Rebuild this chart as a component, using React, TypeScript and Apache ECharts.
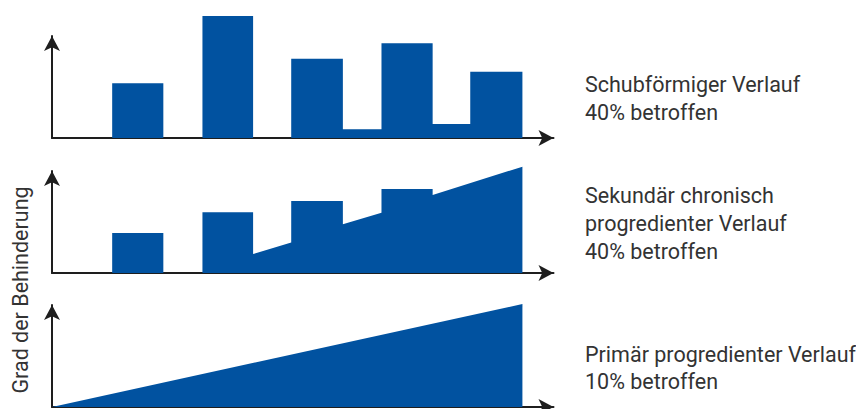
import React, { useEffect, useRef } from "react";
import * as echarts from "echarts";

// Time axis 0..100, degree of disability 0..100
const episodeStart = [12, 30, 47.7, 65.7, 83.4];
const episodeEnd = [22.2, 40.1, 58, 75.9, 93.8];

// Schubförmiger Verlauf
const relapsingPeak = [53.6, 119.6, 77.7, 92.8, 65];
const relapsingBefore = [0, 0, 0, 8.5, 13.7];
const relapsingAfter = [0, 0, 8.5, 13.7, 0];

// Sekundär chronisch progredienter Verlauf
const secondaryPeak = [39.2, 59.5, 70.6, 82.4];
const secondaryBefore = [0, 0, 30, 59];
const secondaryAfter = [0, 18.6, 47.7, 76.5];
const secondaryEnd = [93.8, 104.2];

// Primär progredienter Verlauf
const primaryEnd = [93.8, 101];

const labels = [
  ["Schubförmiger Verlauf", "40% betroffen"],
  ["Sekundär chronisch", "progredienter Verlauf", "40% betroffen"],
  ["Primär progredienter Verlauf", "10% betroffen"],
];
const yAxisTitle = "Grad der Behinderung";

const BLUE = "#0152A0";
const AXIS = "#1e1e1e";
const TEXT = "#333333";
const FONT = "Roboto, 'Liberation Sans', Arial, sans-serif";

function outline(peaks: number[], before: number[], after: number[], tail: number[][]) {
  const pts: number[][] = [[0, 0]];
  peaks.forEach((p, i) => {
    pts.push([episodeStart[i], before[i]], [episodeStart[i], p], [episodeEnd[i], p], [episodeEnd[i], after[i]]);
  });
  tail.forEach((t) => pts.push(t));
  const last = pts[pts.length - 1];
  pts.push([last[0], 0]);
  return pts;
}

export default function App() {
  const ref = useRef<HTMLDivElement>(null);
  useEffect(() => {
    if (!ref.current) return;
    const chart = echarts.init(ref.current, undefined, { renderer: "svg" });
    const gridTops = [36, 171, 305];
    const axisBase = (i: number) => ({
      gridIndex: i,
      type: "value" as const,
      min: 0,
      max: 100,
      axisLine: {
        show: true,
        symbol: ["none", "arrow"],
        symbolSize: [12, 15],
        lineStyle: { color: AXIS, width: 2 },
      },
      axisTick: { show: false },
      axisLabel: { show: false },
      splitLine: { show: false },
    });
    const series = [
      outline(relapsingPeak, relapsingBefore, relapsingAfter, []),
      outline(secondaryPeak, secondaryBefore, secondaryAfter, [secondaryEnd]),
      [[0, 0], primaryEnd, [primaryEnd[0], 0]],
    ].map((data, i) => ({
      type: "line",
      xAxisIndex: i,
      yAxisIndex: i,
      data,
      symbol: "none",
      showSymbol: false,
      clip: false,
      lineStyle: { width: 0, color: BLUE },
      areaStyle: { color: BLUE, opacity: 1 },
      z: 1,
    }));
    const lineYs = [
      [84, 112],
      [195, 223, 251],
      [354, 381],
    ];
    const texts: any[] = [];
    labels.forEach((lines, i) =>
      lines.forEach((t, j) =>
        texts.push({
          type: "text",
          x: 585,
          y: lineYs[i][j],
          style: { text: t, fill: TEXT, font: `21.5px ${FONT}`, textAlign: "left", textVerticalAlign: "middle" },
        })
      )
    );
    texts.push({
      type: "text",
      x: 20,
      y: 290,
      rotation: Math.PI / 2,
      style: { text: yAxisTitle, fill: TEXT, font: `21.5px ${FONT}`, textAlign: "center", textVerticalAlign: "middle" },
    });
    chart.setOption({
      animation: false,
      backgroundColor: "#ffffff",
      grid: gridTops.map((top) => ({ left: 52, width: 501.5, top, height: 102 })),
      xAxis: [0, 1, 2].map((i) => axisBase(i)),
      yAxis: [0, 1, 2].map((i) => axisBase(i)),
      series,
      graphic: texts,
    });
    return () => chart.dispose();
  }, []);
  return <div ref={ref} style={{ position: "fixed", left: 0, top: 0, width: 856, height: 409 }} />;
}
